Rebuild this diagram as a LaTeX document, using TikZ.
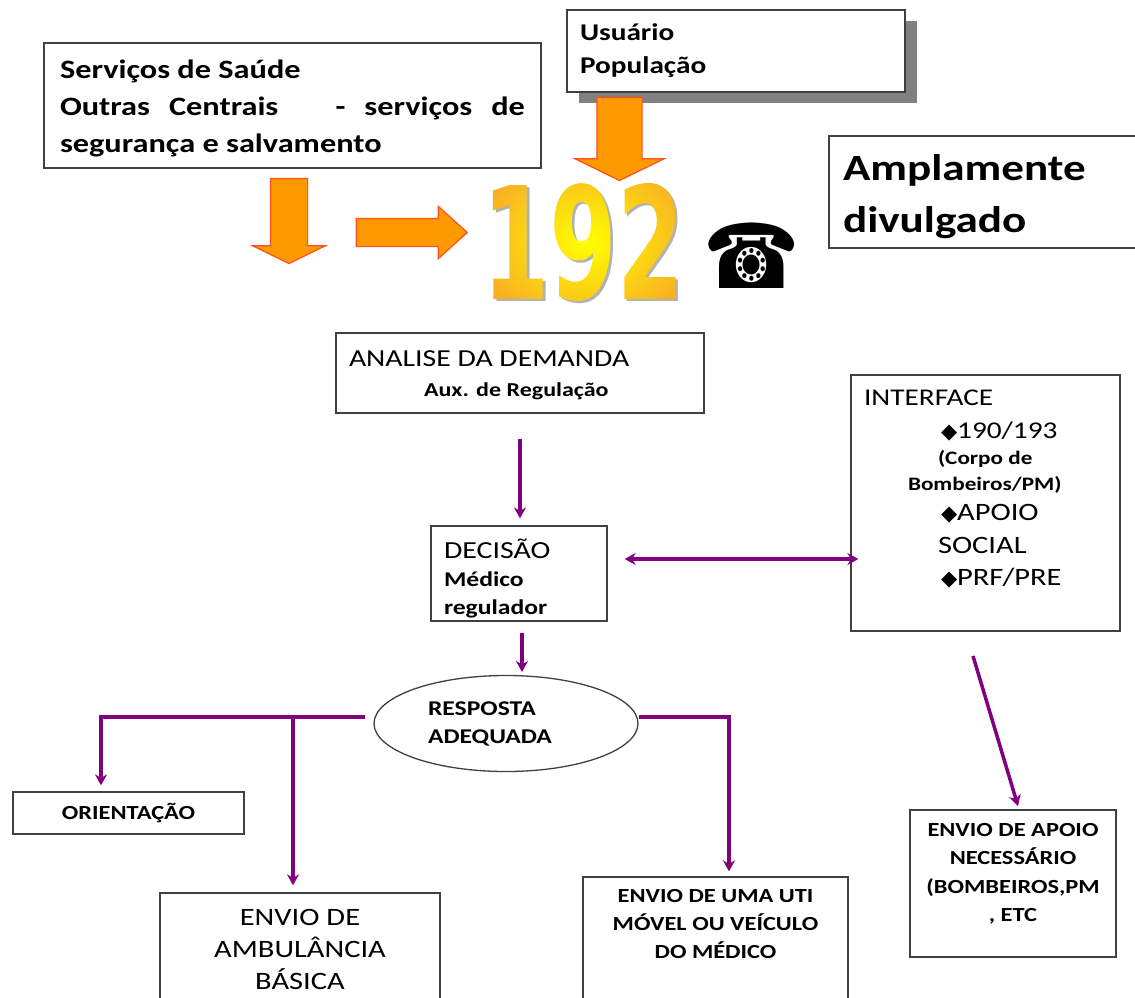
\documentclass[tikz,border=0pt]{standalone}
\usepackage{fontspec}
\usepackage{color}
\usetikzlibrary{arrows.meta,shapes.geometric,shapes.arrows,shadows}
\setmainfont[FakeStretch=1.22]{Carlito}
\newfontfamily\symfont{DejaVu Sans}
\newfontfamily\digitfont{DejaVu Sans}[BoldFeatures={FakeStretch=0.62}]
\definecolor{flowpurple}{RGB}{128,0,128}
\definecolor{arroworange}{RGB}{255,153,0}
\definecolor{arrowedge}{RGB}{255,80,30}
\definecolor{digitorange}{RGB}{247,155,45}
\newcommand{\fsize}[2]{\fontsize{#1}{#2}\selectfont}
\newcommand{\dia}{{\symfont\fontsize{21}{21}\selectfont ◆}}
\newcommand{\digits}{\digitfont\bfseries\fontsize{156}{156}\selectfont 192}
\newcommand{\shadeddigits}{\special{pdf:code 7 Tr}{\digits}\special{pdf:code 0 Tr}%
  \tikz[overlay,x=1pt,y=1pt] \shade[inner color=yellow,outer color=digitorange] (-237,-53) rectangle (43,167);}
\tikzset{
  boxnode/.style={draw=black!75,fill=white,line width=1.3pt,inner sep=0pt,align=flush left},
  flowarrow/.style={draw=flowpurple,line width=3.5pt,-{Stealth[length=11pt,width=12pt]}},
  blockarrow/.style={shape=single arrow,draw=arrowedge,fill=arroworange,line width=1.2pt,inner sep=0pt}
}
\begin{document}
\begin{tikzpicture}[x=1pt,y=-1pt]
  \useasboundingbox (0,0) rectangle (1135,997);
  \clip (0,0) rectangle (1135,997);

  \node[boxnode,minimum width=338pt,minimum height=82pt,text width=312pt,
        drop shadow={shadow xshift=12pt,shadow yshift=-11pt,fill=black!50,opacity=1},
        font=\fsize{24}{33}\bfseries] (usuario) at (736,51) {Usuário\\População};
  \node[boxnode,minimum width=497pt,minimum height=125pt,text width=465pt,
        font=\fsize{26.5}{37}\bfseries] (servicos) at (292.5,105.5)
    {\rule{0pt}{24.5pt}Serviços de Saúde\\\makebox[465pt][s]{Outras\hfil Centrais\hfil\hfil\hfil -\hfil serviços\hfil de}\\segurança e salvamento};
  \node[boxnode,minimum width=330pt,minimum height=112pt,text width=302pt,
        font=\fsize{37}{52}\bfseries] (divulgado) at (994,192) {\rule{0pt}{35pt}Amplamente\\divulgado};

  \node[blockarrow,rotate=-90,minimum height=83pt,inner ysep=22pt,
        single arrow head extend=22pt,single arrow tip angle=128] (arrowtop) at (619.5,133.5) {};
  \node[blockarrow,rotate=-90,minimum height=85pt,inner ysep=18pt,
        single arrow head extend=18pt,single arrow tip angle=128] (arrowleft) at (289,216.5) {};
  \node[blockarrow,minimum height=111pt,inner ysep=13.5pt,
        single arrow head extend=12pt,single arrow tip angle=84] (arrowright) at (404,232.5) {};

  \node[text=black!30] (digitshadow) at (586,245) {\digits};
  \node (digits) at (583,242) {\shadeddigits};
  \node[text=black,xscale=0.86] (phone) at (752,256) {\symfont\fontsize{90}{90}\selectfont ☎};

  \node[boxnode,minimum width=368pt,minimum height=80pt,text width=342pt,font=\fsize{24.4}{30}] (analise) at (520,373)
    {\rule{0pt}{19.5pt}ANALISE DA DEMANDA\\\fsize{19.7}{30}\bfseries\hspace*{75pt}Aux. de Regulação};
  \node[boxnode,minimum width=176pt,minimum height=95pt,text width=150pt,font=\fsize{24.5}{28}] (decisao) at (519,573.5)
    {\rule{0pt}{29pt}DECISÃO\\\fsize{21}{28}\bfseries Médico\\regulador};
  \node[boxnode,minimum width=269pt,minimum height=256pt,text width=243pt,font=\fsize{24}{33}] (interface) at (985.5,503)
    {INTERFACE\\\hspace*{77pt}\dia 190/193\\\fsize{19}{26}\bfseries\hspace*{74pt}(Corpo de\\\hspace*{44pt}Bombeiros/PM)\\[-3pt]
     \fsize{25}{33}\mdseries\hspace*{77pt}\dia APOIO\\\hspace*{74pt}SOCIAL\\[-1pt]\hspace*{77pt}\dia PRF/PRE\\[-2pt]\mbox{}};
  \node[boxnode,shape=ellipse,minimum width=264pt,minimum height=96pt,text width=160pt,
        font=\fsize{21}{28}\bfseries] (resposta) at (506,723.5) {\hspace*{2pt}RESPOSTA\\\hspace*{2pt}ADEQUADA};

  \node[boxnode,minimum width=231pt,minimum height=42pt,align=flush center,font=\fsize{20}{24}\bfseries] (orientacao) at (128.5,813) {ORIENTAÇÃO};
  \node[boxnode,minimum width=280pt,minimum height=112pt,align=flush center,font=\fsize{25}{32}] (ambulancia) at (300,949) {ENVIO DE\\AMBULÂNCIA\\BÁSICA};
  \node[boxnode,minimum width=265pt,minimum height=133pt,align=flush center,font=\fsize{20}{28}\bfseries] (uti) at (715.5,943.5)
    {ENVIO DE UMA UTI\\MÓVEL OU VEÍCULO\\DO MÉDICO\\[12pt]\mbox{}};
  \node[boxnode,minimum width=206pt,minimum height=147pt,align=flush center,font=\fsize{20}{28.5}\bfseries] (apoio) at (1013,883.5)
    {ENVIO DE APOIO\\NECESSÁRIO\\(BOMBEIROS,PM\\, ETC\\[-6pt]\mbox{}};

  \coordinate (linky) at (740,559);
  \coordinate (dropcentre) at (522,672);
  \coordinate (dropleft) at (101,717);
  \coordinate (dropmid) at (293,717);
  \coordinate (dropright) at (729,717);
  \coordinate (apoiostart) at (973,656);
  \coordinate (apoioend) at (1018,806);

  \draw[flowarrow,shorten <=25pt,shorten >=7pt] (analise.south) -- (analise.south |- decisao.north);
  \draw[flowarrow,{Stealth[length=11pt,width=12pt]}-{Stealth[length=11pt,width=12pt]},shorten <=17pt,shorten >=-8pt]
    (decisao.east |- linky) -- (interface.west |- linky);
  \draw[flowarrow,shorten <=11pt] (dropcentre |- decisao.south) -- (dropcentre);
  \draw[flowarrow,shorten <=8pt,shorten >=6pt] (resposta.west |- dropleft) -- (dropleft) -- (dropleft |- orientacao.north);
  \draw[flowarrow,shorten >=7pt] (dropmid) -- (dropmid |- ambulancia.north);
  \draw[flowarrow,shorten >=5pt] (resposta.east |- dropright) -- (dropright) -- (dropright |- uti.north);
  \draw[flowarrow] (apoiostart) -- (apoioend);
\end{tikzpicture}
\end{document}
